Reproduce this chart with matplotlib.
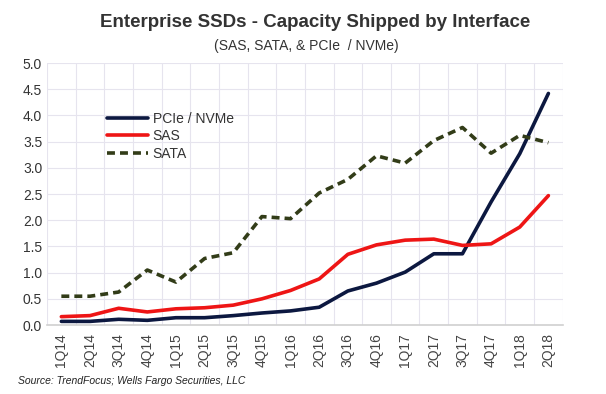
import matplotlib
matplotlib.use("Agg")
import matplotlib.pyplot as plt

plt.rcParams['font.family'] = ['Liberation Sans', 'DejaVu Sans']

quarters = ["1Q14", "2Q14", "3Q14", "4Q14", "1Q15", "2Q15", "3Q15", "4Q15",
            "1Q16", "2Q16", "3Q16", "4Q16", "1Q17", "2Q17", "3Q17", "4Q17",
            "1Q18", "2Q18"]
pcie = [0.07, 0.07, 0.11, 0.09, 0.14, 0.14, 0.18, 0.23, 0.27, 0.34, 0.65, 0.80,
        1.01, 1.36, 1.36, 2.35, 3.27, 4.42]
sas = [0.16, 0.18, 0.32, 0.25, 0.31, 0.33, 0.38, 0.50, 0.66, 0.88, 1.35, 1.53,
       1.62, 1.64, 1.52, 1.55, 1.87, 2.47]
sata = [0.55, 0.55, 0.63, 1.05, 0.82, 1.27, 1.38, 2.07, 2.03, 2.52, 2.78, 3.23,
        3.09, 3.52, 3.77, 3.28, 3.62, 3.48]
yticks = [0.0, 0.5, 1.0, 1.5, 2.0, 2.5, 3.0, 3.5, 4.0, 4.5, 5.0]

fig = plt.figure(figsize=(6.06, 3.94), dpi=100)
ax = fig.add_axes([0.0776, 0.175, 0.851, 0.665])

x = list(range(len(quarters)))
ax.plot(x, pcie, color="#0c1840", lw=2.6, label="PCIe / NVMe", solid_capstyle="round")
ax.plot(x, sas, color="#ee1515", lw=2.6, label="SAS", solid_capstyle="round")
ax.plot(x, sata, color="#323c18", lw=2.6, ls=(0, (2.2, 1.4)), label="SATA")

ax.set_xlim(-0.5, len(quarters) - 0.5)
ax.set_ylim(0, 5.0)
ax.set_yticks(yticks)
ax.set_yticklabels([f"{v:.1f}" for v in yticks], fontsize=10, color="#333333")
ax.set_xticks(x)
ax.set_xticklabels(quarters, rotation=90, fontsize=10, color="#444444")
ax.set_xticks([i - 0.5 for i in range(len(quarters) + 1)], minor=True)
ax.tick_params(axis='both', which='both', length=0)
ax.tick_params(axis='x', pad=6)
ax.grid(True, which='minor', axis='x', color="#e6e4ee", lw=0.8)
ax.grid(True, which='major', axis='y', color="#e6e4ee", lw=0.8)
ax.grid(False, which='major', axis='x')
for s in ["top", "right", "left"]:
    ax.spines[s].set_visible(False)
ax.spines["bottom"].set_color("#d0d0d0")
ax.spines["bottom"].set_linewidth(1.2)

leg = ax.legend(loc="upper left", bbox_to_anchor=(0.105, 0.835), frameon=False,
                fontsize=10, handlelength=3.0, handletextpad=0.3, labelspacing=0.25,
                borderaxespad=0)
for t in leg.get_texts():
    t.set_color("#333333")

fig.text(0.52, 0.944, "Enterprise SSDs - Capacity Shipped by Interface",
         ha="center", va="center", fontsize=13.5, fontweight="bold", color="#333333")
fig.text(0.505, 0.882, "(SAS, SATA, & PCIe  / NVMe)", ha="center", va="center",
         fontsize=10, color="#333333")
fig.text(0.03, 0.033, "Source: TrendFocus; Wells Fargo Securities, LLC",
         ha="left", va="center", fontsize=7.5, style="italic", color="#222222")

fig.savefig("out.png", dpi=100)
